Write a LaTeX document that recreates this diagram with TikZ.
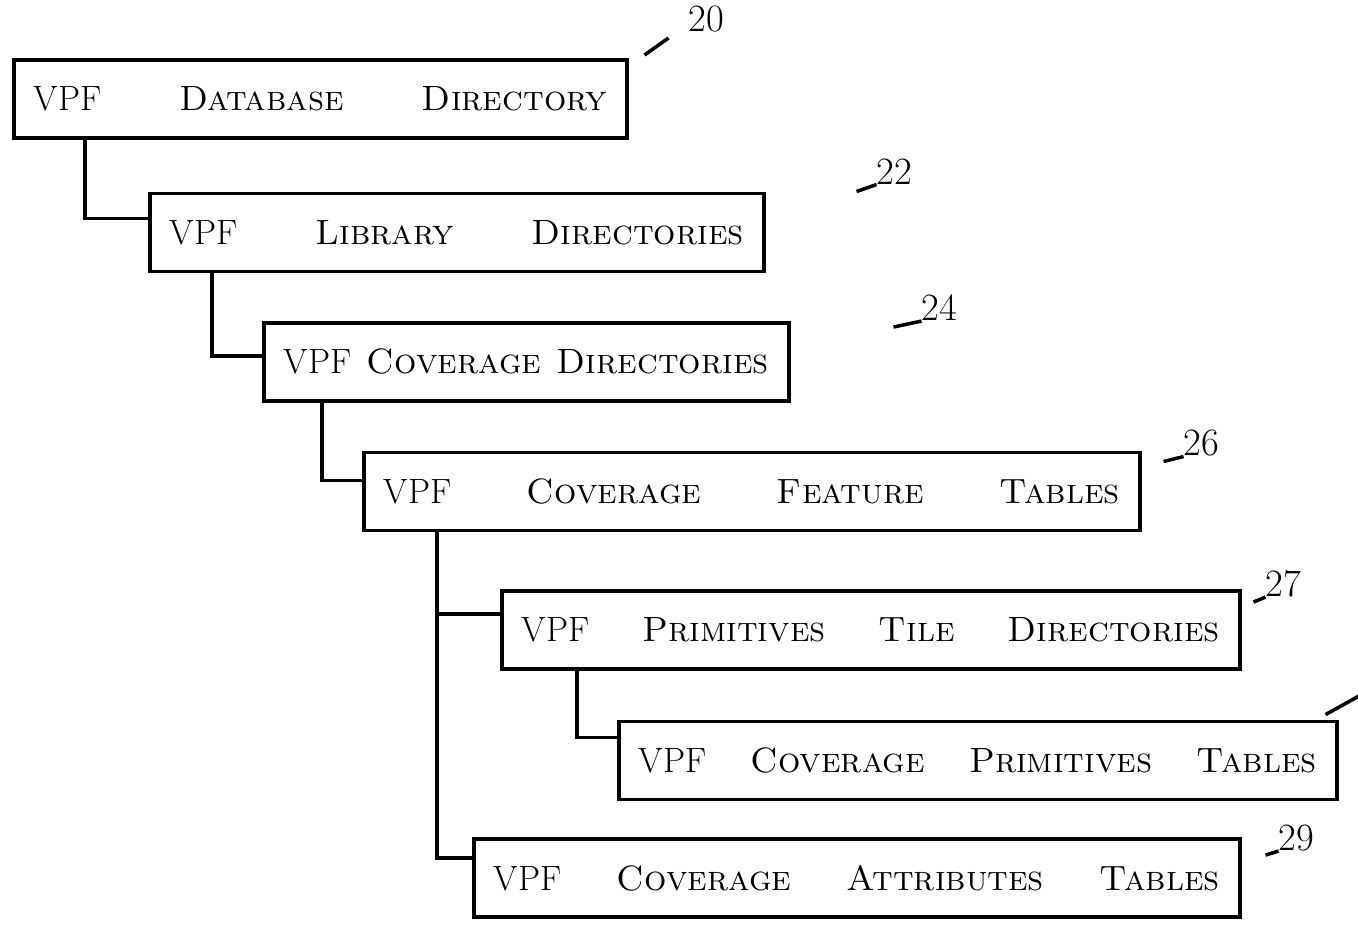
\documentclass[tikz,border=0pt]{standalone}
\usepackage{tikz}
\usetikzlibrary{positioning}
\tikzstyle{block} = [draw, fill=white, rectangle, line width=2pt, inner xsep=.4cm, minimum height=1.56cm, font=\fontsize{20}{24}\selectfont]
\tikzstyle{line} = [line width=2pt]
\tikzstyle{refnum} = [inner sep=0pt, font=\fontsize{22}{26}\selectfont]

\begin{document}
\begin{tikzpicture}[auto]
  \useasboundingbox (0,0) rectangle (27.16,-18.58);
  % directory tree
  \node[block, anchor=north west, text width=11.46cm] (db) at (0.24,-1.16) {VPF\hfill\textsc{Database}\hfill\textsc{Directory}\hspace*{1.2cm}};
  \node[block, below right=1.04cm and 2.72cm of db.south west, text width=11.48cm] (lib) {VPF\hfill\textsc{Library}\hfill\textsc{Directories}};
  \node[block, below right=.96cm and 2.28cm of lib.south west, text width=9.7cm] (cov) {VPF\hfill\textsc{Coverage}\hfill\textsc{Directories}};
  \node[block, below right=.96cm and 2.0cm of cov.south west, text width=14.72cm] (feat) {VPF\hfill\textsc{Coverage}\hfill\textsc{Feature}\hfill\textsc{Tables}};
  \node[block, below right=1.14cm and 2.76cm of feat.south west, text width=13.96cm] (tile) {VPF\hfill\textsc{Primitives}\hfill\textsc{Tile}\hfill\textsc{Directories}};
  \node[block, below right=.98cm and 2.34cm of tile.south west, text width=13.56cm] (prim) {VPF\hfill\textsc{Coverage}\hfill\textsc{Primitives}\hfill\textsc{Tables}};
  \node[block, below right=6.1cm and 2.2cm of feat.south west, text width=14.52cm] (attr) {VPF\hfill\textsc{Coverage}\hfill\textsc{Attributes}\hfill\textsc{Tables}};
  \draw[line] ([xshift=1.46cm]db.south west) |- ([yshift=.28cm]lib.west);
  \draw[line] ([xshift=1.28cm]lib.south west) |- ([yshift=.12cm]cov.west);
  \draw[line] ([xshift=1.2cm]cov.south west) |- ([yshift=.22cm]feat.west);
  \draw[line] ([xshift=1.5cm]feat.south west) |- ([yshift=.32cm]tile.west);
  \draw[line] ([xshift=1.5cm]feat.south west) |- ([yshift=.4cm]attr.west);
  \draw[line] ([xshift=1.54cm]tile.south west) |- ([yshift=.46cm]prim.west);
  % reference numerals
  \node[refnum, above right=.52cm and 1.2cm of db.north east] (n20) {20};
  \node[refnum, above right=.14cm and 2.22cm of lib.north east] (n22) {22};
  \node[refnum, above right=0cm and 2.62cm of cov.north east] (n24) {24};
  \node[refnum, above right=-.12cm and .84cm of feat.north east] (n26) {26};
  \node[refnum, above right=-.16cm and .48cm of tile.north east] (n27) {27};
  \node[refnum, above right=-.28cm and .74cm of attr.north east] (n29) {29};
  \draw[line] ([shift={(-.4,-.12)}]n20.south west) -- ++(-.48,-.34);
  \draw[line] (n22.south west) -- ++(-.4,-.14);
  \draw[line] (n24.south west) -- ++(-.56,-.12);
  \draw[line] (n26.south west) -- ++(-.4,-.1);
  \draw[line] (n27.south west) -- ++(-.24,-.1);
  \draw[line] (n29.south west) -- ++(-.26,-.08);
  \draw[line] ([shift={(-.26,.1)}]prim.north east) -- ++(.72,.4);
\end{tikzpicture}
\end{document}
